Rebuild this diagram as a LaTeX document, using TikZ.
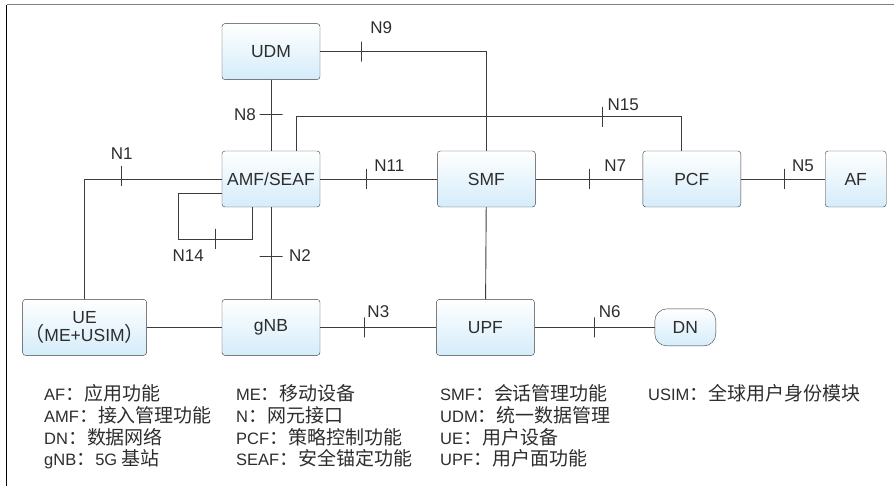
\documentclass[tikz,border=0pt]{standalone}
\usepackage{fontspec}
\setmainfont{Liberation Sans}
\newfontfamily\cjk[Scale=1.15]{Noto Sans CJK SC}
\usepackage{tikz}
\usetikzlibrary{positioning}
\definecolor{boxblue}{RGB}{212,236,250}
\definecolor{linegray}{RGB}{60,60,60}
\definecolor{txtgray}{RGB}{45,45,45}

\begin{document}
\begin{tikzpicture}[x=1pt, y=1pt,
nf/.style={draw=linegray, rounded corners=3pt, top color=white, bottom color=boxblue, minimum width=98pt, minimum height=56pt, inner sep=1pt, align=center, text=txtgray, font=\fontsize{17.5}{18.5}\selectfont},
link/.style={draw=linegray, line width=0.9pt},
vtick/.style={draw=linegray, line width=0.9pt, inner sep=0pt, minimum width=0pt, minimum height=20pt},
htick/.style={draw=linegray, line width=0.9pt, inner sep=0pt, minimum height=0pt, minimum width=23pt},
nlabel/.style={inner sep=0pt, text=txtgray, font=\fontsize{17}{20}\selectfont},
legend/.style={inner sep=0pt, anchor=base west, align=left, text=txtgray, font=\fontsize{16.5}{21.7}\selectfont}
]
\useasboundingbox (0,0) rectangle (894,486);
\draw[gray, line width=1pt] (894,481) -- (6.5,481);
\draw[black, line width=1pt] (6.5,481) -- (6.5,0);

\node[nf] (amf) at (271,307) {AMF/SEAF};
\node[nf, above=71pt of amf] (udm) {UDM};
\node[nf, right=117pt of amf] (smf) {SMF};
\node[nf, right=107pt of smf] (pcf) {PCF};
\node[nf, right=84pt of pcf, minimum width=61pt] (af) {AF};
\node[nf, below=92pt of amf] (gnb) {gNB};
\node[nf, left=75pt of gnb, minimum width=124pt] (ue) {UE\\{\cjk （}ME+USIM{\cjk ）}};
\node[nf, right=116pt of gnb] (upf) {UPF};
\node[nf, right=120pt of upf, minimum width=61pt, minimum height=37pt, rounded corners=12pt] (dn) {DN};

\draw[link] (udm.east) -| node[vtick, pos=0.123] (t9) {} (smf.north);
\node[nlabel, above right=7pt and 9pt of t9.north] (l9) {N9};
\draw[link] (udm) -- node[htick, pos=0.49] (t8) {} (amf);
\node[nlabel, left=3pt of t8.west] (l8) {N8};
\draw[link] ([xshift=25pt]amf.north) |- node[vtick, pos=0.897] (t15) {} ([xshift=-10pt, yshift=34pt]pcf.north) -- ([xshift=-10pt]pcf.north);
\node[nlabel, above right=-5pt and 5pt of t15.north] (l15) {N15};
\draw[link] (amf.west) -| node[vtick, pos=0.365, yshift=3pt] (t1) {} (ue.north);
\node[nlabel, above=6pt of t1.north] (l1) {N1};
\draw[link] ([yshift=-14pt]amf.west) -| ++(-43pt,-46pt) -| node[vtick, pos=0.247] (t14) {} ([xshift=-19pt]amf.south);
\node[nlabel, below left=0pt and 11pt of t14.south] (l14) {N14};
\draw[link] (amf) -- node[htick, pos=0.53] (t2) {} (gnb);
\node[nlabel, right=6pt of t2.east] (l2) {N2};
\draw[link] (amf) -- node[vtick, pos=0.393] (t11) {} (smf);
\node[nlabel, above right=-3pt and 8pt of t11.north] (l11) {N11};
\draw[link] (smf) -- node[vtick, pos=0.5] (t7) {} (pcf);
\node[nlabel, above right=-3pt and 15pt of t7.north] (l7) {N7};
\draw[link] (pcf) -- node[vtick, pos=0.512] (t5) {} (af);
\node[nlabel, above right=-3pt and 8pt of t5.north] (l5) {N5};
\draw[link] (smf) -- (upf);
\draw[link] (ue) -- (gnb);
\draw[link] (gnb) -- node[vtick, pos=0.38] (t3) {} (upf);
\node[nlabel, above right=-1pt and 3pt of t3.north] (l3) {N3};
\draw[link] (upf) -- node[vtick, pos=0.5] (t6) {} (dn);
\node[nlabel, above right=-1pt and 4pt of t6.north] (l6) {N6};

\node[legend] (leg1) at (44,20) {AF{\cjk ：应用功能}\\AMF{\cjk ：接入管理功能}\\DN{\cjk ：数据网络}\\gNB{\cjk ：}5G {\cjk 基站}};
\node[legend] (leg2) at (236,20) {ME{\cjk ：移动设备}\\N{\cjk ：网元接口}\\PCF{\cjk ：策略控制功能}\\SEAF{\cjk ：安全锚定功能}};
\node[legend] (leg3) at (440,20) {SMF{\cjk ：会话管理功能}\\UDM{\cjk ：统一数据管理}\\UE{\cjk ：用户设备}\\UPF{\cjk ：用户面功能}};
\node[legend] (leg4) at (648,85) {USIM{\cjk ：全球用户身份模块}};
\end{tikzpicture}
\end{document}
